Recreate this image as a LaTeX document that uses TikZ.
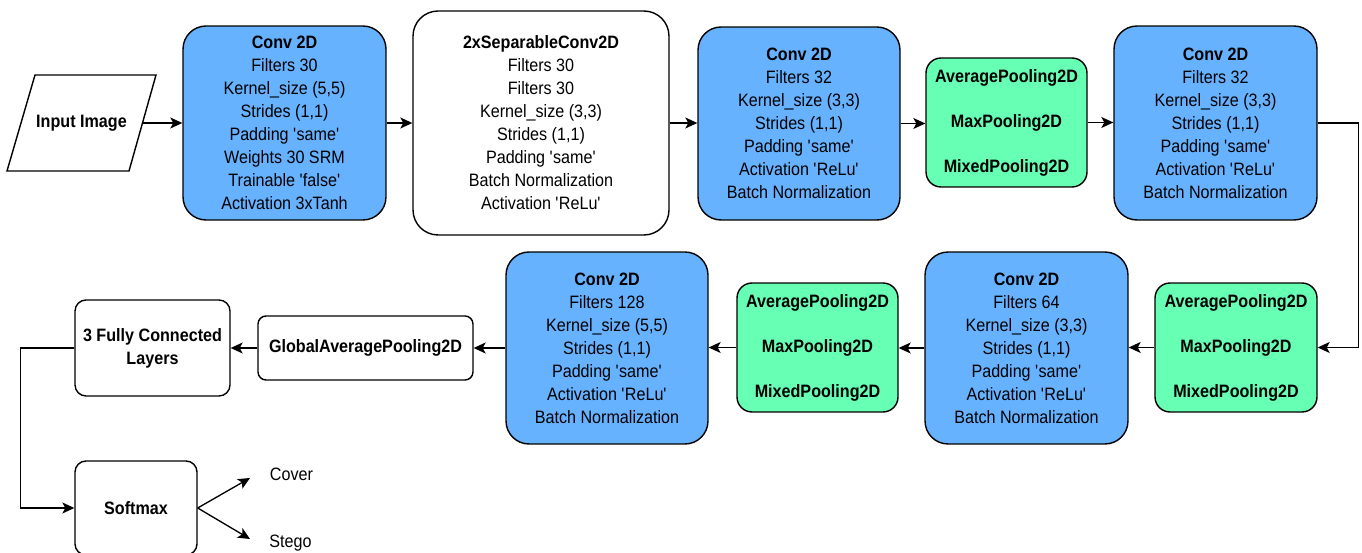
\documentclass[tikz,border=0pt]{standalone}
\usepackage{fontspec}
\setmainfont{Liberation Sans}[FakeStretch=0.9]
\usetikzlibrary{arrows.meta}
\definecolor{convblue}{HTML}{66B2FF}
\definecolor{poolgreen}{HTML}{66FFB3}
\newcommand\sq{\textquotesingle}
\tikzset{
  box/.style={draw, line width=0.8pt, align=center, inner sep=0pt,
    font=\fontsize{10.2}{13.1}\selectfont},
  conv/.style={box, fill=convblue, rounded corners=0.46cm},
  sepconv/.style={box, fill=white, rounded corners=0.5cm},
  pool/.style={box, fill=poolgreen, rounded corners=0.3cm,
    font=\bfseries\fontsize{10.2}{25.6}\selectfont},
  flat/.style={box, fill=white, rounded corners=0.22cm, font=\bfseries\fontsize{10.2}{13.1}\selectfont},
  arr/.style={-{Stealth[length=0.24cm,width=0.22cm,inset=0.06cm]}, line width=0.75pt},
}
\begin{document}
\begin{tikzpicture}[x=0.02cm,y=-0.02cm]
% coordinates in pixels of the 1362x553 frame
\useasboundingbox (0,0) rectangle (1362,553);
\draw[line width=0.8pt] (35,75) -- (156,75) -- (129,171) -- (7,171) -- cycle;
\node[align=center, minimum width=2.44cm, minimum height=1.92cm, inner sep=0pt,
  font=\bfseries\fontsize{10.2}{13.1}\selectfont] (input) at (81.5,123) {Input Image};
\node[conv, minimum width=4.06cm, minimum height=3.88cm] (conv1) at (284.5,123)
  {\textbf{Conv 2D}\\Filters 30\\Kernel\_size (5,5)\\Strides (1,1)\\Padding \sq same\sq\\Weights 30 SRM\\Trainable \sq false\sq\\Activation 3xTanh};
\node[sepconv, minimum width=5.12cm, minimum height=4.48cm] (sep) at (541,123)
  {\textbf{2xSeparableConv2D}\\Filters 30\\Filters 30\\Kernel\_size (3,3)\\Strides (1,1)\\Padding \sq same\sq\\Batch Normalization\\Activation \sq ReLu\sq};
\node[conv, minimum width=4.04cm, minimum height=3.86cm] (conv2) at (799,123.5)
  {\textbf{Conv 2D}\\Filters 32\\Kernel\_size (3,3)\\Strides (1,1)\\Padding \sq same\sq\\Activation \sq ReLu\sq\\Batch Normalization};
\node[pool, minimum width=3.22cm, minimum height=2.58cm] (pool1) at (1006.5,122.5)
  {AveragePooling2D\\MaxPooling2D\\MixedPooling2D};
\node[conv, minimum width=4.06cm, minimum height=3.88cm] (conv3) at (1215.5,123)
  {\textbf{Conv 2D}\\Filters 32\\Kernel\_size (3,3)\\Strides (1,1)\\Padding \sq same\sq\\Activation \sq ReLu\sq\\Batch Normalization};
\node[pool, minimum width=3.24cm, minimum height=2.58cm] (pool2) at (1236,347.5)
  {AveragePooling2D\\MaxPooling2D\\MixedPooling2D};
\node[conv, minimum width=4.06cm, minimum height=3.84cm] (conv4) at (1026.5,348)
  {\textbf{Conv 2D}\\Filters 64\\Kernel\_size (3,3)\\Strides (1,1)\\Padding \sq same\sq\\Activation \sq ReLu\sq\\Batch Normalization};
\node[pool, minimum width=3.22cm, minimum height=2.58cm] (pool3) at (817.5,347.5)
  {AveragePooling2D\\MaxPooling2D\\MixedPooling2D};
\node[conv, minimum width=4.04cm, minimum height=3.84cm] (conv5) at (607,348)
  {\textbf{Conv 2D}\\Filters 128\\Kernel\_size (5,5)\\Strides (1,1)\\Padding \sq same\sq\\Activation \sq ReLu\sq\\Batch Normalization};
\node[flat, rounded corners=0.16cm, minimum width=4.3cm, minimum height=1.28cm] (gap) at (365.5,348)
  {GlobalAveragePooling2D};
\node[flat, minimum width=3.1cm, minimum height=1.92cm] (fc) at (152.5,348)
  {3 Fully Connected\\Layers};
\node[flat, minimum width=2.44cm, minimum height=1.88cm] (soft) at (136,508)
  {Softmax};
\coordinate (cover) at (250,478);
\coordinate (stego) at (250,539);
\node[font=\fontsize{10.2}{13.1}\selectfont] (covertxt) at (291.5,474) {Cover};
\node[font=\fontsize{10.2}{13.1}\selectfont] (stegotxt) at (290.5,543) {Stego};
\draw[arr] (input.east) -- (conv1.west);
\draw[arr] (conv1.east) -- (sep.west);
\draw[arr] (sep.east) -- (conv2.west |- sep.east);
\draw[arr] (conv2.east) -- (pool1.west |- conv2.east);
\draw[arr] (pool1.east) -- (conv3.west |- pool1.east);
\draw[arr] (conv3.east) -- ++(41,0) |- (pool2.east);
\draw[arr] (pool2.west) -- (conv4.east |- pool2.west);
\draw[arr] (conv4.west) -- (pool3.east |- conv4.west);
\draw[arr] (pool3.west) -- (conv5.east |- pool3.west);
\draw[arr] (conv5.west) -- (gap.east |- conv5.west);
\draw[arr] (gap.west) -- (fc.east |- gap.west);
\draw[arr] (fc.west) -- ++(-54,0) |- (soft.west);
\draw[arr] (soft.east) -- (cover);
\draw[arr] (soft.east) -- (stego);
\end{tikzpicture}
\end{document}
